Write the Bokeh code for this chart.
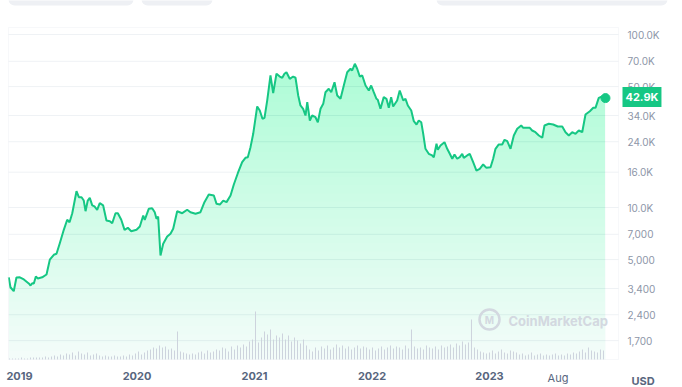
import numpy as np
from bokeh.plotting import figure
from bokeh.models import Range1d, FixedTicker, Label, LinearScale, BoxAnnotation, LogAxis, LinearAxis
from bokeh.embed import file_html
from bokeh.resources import INLINE

# ---------------- data ----------------
years = [2018.909, 2018.923, 2018.951, 2018.974, 2019.003, 2019.037, 2019.079, 2019.094, 2019.108, 2019.122,
         2019.139, 2019.156, 2019.193, 2019.230, 2019.258, 2019.292, 2019.315, 2019.343, 2019.377, 2019.406,
         2019.426, 2019.449, 2019.485, 2019.505, 2019.528, 2019.547, 2019.562, 2019.581, 2019.598, 2019.619,
         2019.638, 2019.661, 2019.683, 2019.712, 2019.740, 2019.769, 2019.789, 2019.817, 2019.837, 2019.866,
         2019.894, 2019.922, 2019.951, 2019.996, 2020.024, 2020.053, 2020.066, 2020.100, 2020.129, 2020.151,
         2020.166, 2020.180, 2020.200, 2020.223, 2020.257, 2020.285, 2020.308, 2020.342, 2020.385, 2020.427,
         2020.455, 2020.498, 2020.540, 2020.574, 2020.611, 2020.654, 2020.677, 2020.705, 2020.734, 2020.762,
         2020.796, 2020.824, 2020.858, 2020.895, 2020.923, 2020.943, 2020.966, 2020.989, 2021.023, 2021.045,
         2021.068, 2021.085, 2021.108, 2021.136, 2021.159, 2021.187, 2021.215, 2021.236, 2021.255, 2021.272,
         2021.300, 2021.329, 2021.349, 2021.372, 2021.391,
         2021.414, 2021.434, 2021.449, 2021.471, 2021.491, 2021.519, 2021.539, 2021.562, 2021.585, 2021.604,
         2021.632, 2021.653, 2021.681, 2021.704, 2021.732, 2021.760, 2021.789, 2021.817, 2021.831, 2021.854,
         2021.874, 2021.896, 2021.917, 2021.945, 2021.973, 2021.993, 2022.015, 2022.038, 2022.049, 2022.072,
         2022.100, 2022.123, 2022.143, 2022.163, 2022.180, 2022.214, 2022.236, 2022.266, 2022.285, 2022.305,
         2022.334, 2022.356, 2022.379, 2022.398, 2022.419, 2022.436, 2022.455, 2022.483, 2022.512, 2022.526,
         2022.549, 2022.560, 2022.583, 2022.617, 2022.640, 2022.662, 2022.683, 2022.702, 2022.725, 2022.747,
         2022.768, 2022.781, 2022.810, 2022.832, 2022.861, 2022.889, 2022.917, 2022.946, 2022.974, 2023.009,
         2023.031, 2023.051, 2023.079, 2023.108, 2023.128, 2023.151, 2023.179, 2023.207, 2023.236, 2023.270,
         2023.287, 2023.315, 2023.343, 2023.363, 2023.391, 2023.420, 2023.449, 2023.468, 2023.505, 2023.542,
         2023.581, 2023.619, 2023.647, 2023.675, 2023.704, 2023.732, 2023.760, 2023.789, 2023.817, 2023.854,
         2023.883, 2023.902, 2023.930, 2023.959, 2023.987]

prices = [3950, 3460, 3281, 3936, 3950, 3837, 3639, 3540, 3648, 3640,
          3990, 3890, 3950, 4100, 4990, 5330, 5400, 6220, 7430, 8490,
          8220, 9270, 12420, 11470, 11470, 10970, 9520, 10970, 11370, 10280,
          10140, 9700, 10590, 10280, 8410, 8330, 8110, 9270, 9270, 8490,
          7430, 7630, 7290, 7430, 7770, 8990, 8490, 9830, 9910, 9390,
          8600, 8870, 5280, 6170, 6800, 7050, 7530, 9520, 9270, 9700,
          9390, 9200, 9390, 10740, 11890, 11730, 10500, 10400, 10970, 10740,
          11730, 13580, 15780, 18270, 19370, 19530, 22320, 26670, 38370, 36380,
          32570, 32980, 41520, 57940, 45780, 59290, 57150, 56230, 59290, 60560,
          55460, 57150, 56230, 44390, 38880,
          37200, 34020, 40610, 31830, 34020, 33260, 31120, 37200, 39740, 46380,
          48550, 46380, 52990, 44390, 42490, 50730, 60560, 63370, 61930, 67720,
          63370, 57150, 57940, 50730, 47470, 50730, 46380, 42490, 41940, 37200,
          43440, 42490, 37680, 43440, 38370, 41520, 47470, 41520, 42490, 38880,
          36380, 31540, 30180, 31830, 31120, 26670, 21850, 20440, 19990, 19530,
          23350, 21560, 22820, 23850, 21850, 20440, 19130, 20250, 19130, 19530,
          20440, 19370, 19990, 20440, 18270, 16360, 16740, 17730, 16950, 17090,
          19130, 21850, 23140, 23140, 24620, 24170, 21850, 26080, 28500, 29780,
          28890, 28890, 28890, 27870, 27240, 26080, 25290, 29780, 30470, 30180,
          29380, 29380, 27240, 26080, 27240, 26670, 27870, 27240, 34480, 36040,
          37680, 37680, 43040, 43830, 42900]

# trading volume bars (relative heights), evenly spaced from vol_start
vol_start = 2018.915
vol_step = 0.02553
volume = [1, 1, 1, 1, 2, 1, 1, 2, 2, 2,
          2, 2, 3, 2, 3, 4, 3, 5, 4, 6,
          5, 7, 4, 8, 6, 5, 7, 4, 5, 6,
          4, 3, 4, 3, 3, 4, 3, 3, 4, 3,
          5, 4, 6, 8, 5, 7, 9, 10, 12, 11,
          14, 12, 13, 10, 11, 9, 28, 8, 7, 6,
          5, 6, 5, 7, 8, 6, 9, 7, 8, 10,
          9, 12, 11, 8, 13, 10, 14, 12, 15, 13,
          18, 20, 48, 17, 22, 28, 25, 30, 20, 24,
          22, 26, 20, 24, 18, 22, 19, 16, 20, 14,
          10, 8, 12, 9, 13, 11, 14, 10, 12, 15,
          12, 14, 11, 13, 10, 12, 14, 11, 13, 12,
          10, 12, 9, 11, 13, 10, 12, 14, 11, 13,
          12, 10, 14, 11, 30, 13, 11, 12, 10, 14,
          12, 11, 13, 10, 14, 12, 13, 15, 12, 16,
          14, 18, 15, 17, 40, 12, 10, 8, 7, 6,
          7, 9, 6, 8, 10, 7, 6, 9, 8, 7,
          5, 6, 4, 5, 7, 4, 5, 6, 4, 5,
          4, 5, 6, 4, 5, 4, 6, 5, 7, 6,
          8, 10, 7, 12, 9, 8, 7, 10, 9]

x_ticks = [2019, 2020, 2021, 2022, 2023]
x_tick_labels = ["2019", "2020", "2021", "2022", "2023"]
month_tick = 2023.583
month_label = "Aug"

y_ticks = [1700, 2400, 3400, 5000, 7000, 10000, 16000, 24000, 34000, 50000, 70000, 100000]
y_tick_labels = ["1,700", "2,400", "3,400", "5,000", "7,000", "10.0K", "16.0K", "24.0K",
                 "34.0K", "50.0K", "70.0K", "100.0K"]
last_label = "42.9K"
currency = "USD"

# ---------------- styling / geometry ----------------
GREEN = "#16c784"
TXT = "#58667e"
AXIS_TXT = "#8d96a8"
GRID = "#eff2f5"
BORDER = "#e6e9ee"
FONT = "Inter"

W, H = 682, 387
PX_PER_YEAR = 117.5          # horizontal scale
PX_PER_DECADE = 173.0        # vertical (log) scale
X_REF_PX, Y_REF_PX = 19, 34  # pixel of 2019 and of 100K
CL, CR, CT, CB = 8, 618, 27, 359   # chart box inside the canvas

def xd(px):
    return 2019 + (px - X_REF_PX) / PX_PER_YEAR

def yd(py):
    return 10 ** (5 - (py - Y_REF_PX) / PX_PER_DECADE)

n = min(len(years), len(prices))
xs = np.array(years[:n])
ys = np.array(prices[:n], dtype=float)

p = figure(width=W, height=H,
           x_range=Range1d(xd(0), xd(W)), y_range=Range1d(yd(H), yd(0)),
           y_axis_type="log", x_axis_location=None, y_axis_location=None,
           output_backend="svg", toolbar_location=None,
           min_border_left=0, min_border_top=0, min_border_right=0, min_border_bottom=0)
p.outline_line_color = None
p.background_fill_color = "white"
p.border_fill_color = "white"
p.xgrid.visible = False
p.ygrid.visible = False
p.extra_y_ranges = {"vol": Range1d(-(H - CB), CB)}   # 1 unit = 1 px, 0 at chart bottom
p.extra_y_scales = {"vol": LinearScale()}

x_left, x_right = xd(CL), xd(CR)
y_bot, y_top = yd(CB), yd(CT)

# horizontal grid lines inside the chart box
p.segment(x0=[x_left] * len(y_ticks), x1=[x_right] * len(y_ticks), y0=y_ticks, y1=y_ticks,
          line_color=GRID, line_width=1)

# gradient fill: stacked translucent layers, darker toward the top
Lb, Lt = np.log10(y_bot), np.log10(y_top)
N = 40
p.varea(x=xs, y1=y_bot, y2=ys, fill_color=GREEN, fill_alpha=0.05)
for i in range(1, N):
    lo = 10 ** (Lb + (Lt - Lb) * i / N)
    if (ys > lo).any():
        p.varea(x=xs, y1=lo, y2=np.maximum(ys, lo), fill_color=GREEN, fill_alpha=0.0097)

# volume bars
vol_x = [vol_start + i * vol_step for i in range(len(volume))]
p.vbar(x=vol_x, top=volume, bottom=0, width=1 / PX_PER_YEAR, y_range_name="vol",
       fill_color="#cdd3dd", line_color=None)

# chart border
p.add_layout(BoxAnnotation(left=x_left, right=x_right, bottom=y_bot, top=y_top,
                           fill_alpha=0, line_color=BORDER, line_width=1))

# price line and last point
p.line(xs, ys, line_color=GREEN, line_width=2)
p.scatter([xs[-1]], [ys[-1]], size=9, fill_color=GREEN, line_color=GREEN)

# price axis (right of the chart box)
yax = LogAxis(fixed_location=x_right, ticker=FixedTicker(ticks=y_ticks))
yax.major_label_overrides = {v: s for v, s in zip(y_ticks, y_tick_labels)}
yax.axis_line_color = None
yax.major_tick_line_color = None
yax.minor_tick_line_color = None
yax.major_tick_out = 0
yax.major_label_standoff = 9
yax.major_label_text_font = FONT
yax.major_label_text_font_size = "10px"
yax.major_label_text_color = AXIS_TXT
p.add_layout(yax, "right")

# time axis (below the chart box)
xax = LinearAxis(fixed_location=y_bot, ticker=FixedTicker(ticks=x_ticks))
xax.major_label_overrides = {v: s for v, s in zip(x_ticks, x_tick_labels)}
xax.axis_line_color = None
xax.major_tick_line_color = None
xax.minor_tick_line_color = None
xax.major_tick_out = 0
xax.major_label_standoff = 12
xax.major_label_text_font = FONT
xax.major_label_text_font_size = "11px"
xax.major_label_text_font_style = "bold"
xax.major_label_text_color = TXT
p.add_layout(xax, "below")

# month label (normal weight)
p.add_layout(Label(x=month_tick, y=yd(377), text=month_label, text_align="center",
                   text_baseline="middle", text_font=FONT, text_font_size="11px",
                   text_color=TXT))
# currency
p.add_layout(Label(x=xd(631), y=yd(380), text=currency, text_align="left",
                   text_baseline="middle", text_font=FONT, text_font_size="11px",
                   text_font_style="bold", text_color=TXT))
# last price tag
p.add_layout(Label(x=xd(622), y=ys[-1], y_offset=1, text=last_label, text_align="left",
                   text_baseline="middle", text_font=FONT, text_font_size="11px",
                   text_font_style="bold", text_color="white",
                   background_fill_color=GREEN, padding=3))

# watermark
p.scatter([xd(489)], [yd(319)], size=20, marker="circle", fill_color=None,
          line_color="#d3d8e0", line_width=2.5)
p.add_layout(Label(x=xd(489), y=yd(319), text="M", text_align="center", text_baseline="middle",
                   text_font=FONT, text_font_size="10px", text_font_style="bold",
                   text_color="#d3d8e0"))
p.add_layout(Label(x=xd(508), y=yd(320), text="CoinMarketCap", text_align="left",
                   text_baseline="middle", text_font=FONT, text_font_size="13px",
                   text_font_style="bold", text_color="#d3d8e0"))

# page controls peeking in at the top (decoration)
for (l, r) in [(8, 133), (141, 212), (436, 667)]:
    p.add_layout(BoxAnnotation(left=xd(l), right=xd(r), top=yd(-12), bottom=yd(5),
                               fill_color="#eef0f4", fill_alpha=1, line_color=None,
                               border_radius=6))

open("out.html", "w").write(file_html(p, INLINE))
